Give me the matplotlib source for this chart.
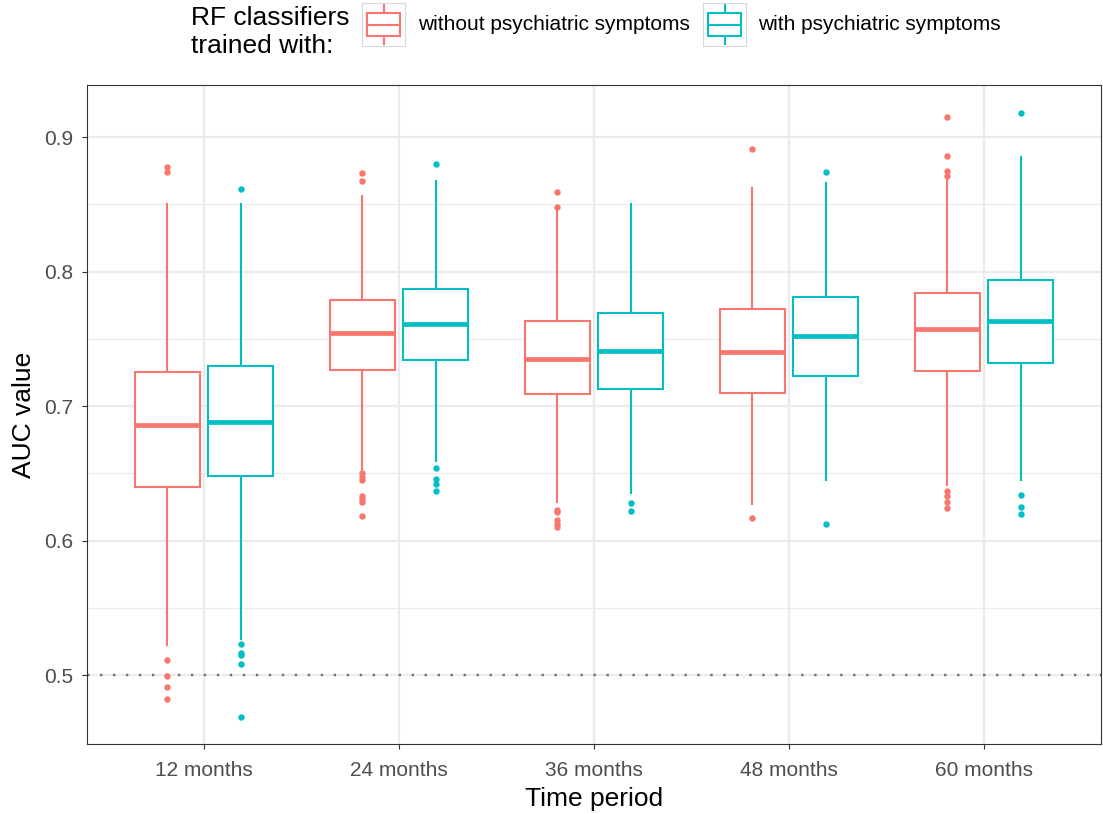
import matplotlib
matplotlib.use("Agg")
import matplotlib.pyplot as plt
from matplotlib.patches import Rectangle

plt.rcParams['font.family'] = ['Liberation Sans', 'DejaVu Sans']

periods = ["12 months", "24 months", "36 months", "48 months", "60 months"]
groups = ["without psychiatric symptoms", "with psychiatric symptoms"]
colors = ["#F8766D", "#00BFC4"]

# box statistics
without_q1 = [0.640, 0.727, 0.709, 0.710, 0.726]
without_med = [0.686, 0.754, 0.735, 0.740, 0.757]
without_q3 = [0.725, 0.779, 0.763, 0.772, 0.784]
without_lo = [0.522, 0.652, 0.629, 0.627, 0.641]
without_hi = [0.850, 0.856, 0.845, 0.862, 0.870]
without_fliers = [
    [0.878, 0.874, 0.511, 0.499, 0.491, 0.482],
    [0.873, 0.867, 0.650, 0.647, 0.645, 0.633, 0.631, 0.629, 0.618],
    [0.859, 0.848, 0.623, 0.621, 0.615, 0.612, 0.610],
    [0.891, 0.617],
    [0.915, 0.886, 0.875, 0.871, 0.637, 0.633, 0.629, 0.624],
]

with_q1 = [0.648, 0.734, 0.713, 0.722, 0.732]
with_med = [0.688, 0.761, 0.741, 0.752, 0.763]
with_q3 = [0.730, 0.787, 0.769, 0.781, 0.794]
with_lo = [0.527, 0.659, 0.635, 0.645, 0.645]
with_hi = [0.850, 0.867, 0.850, 0.866, 0.885]
with_fliers = [
    [0.861, 0.523, 0.516, 0.515, 0.508, 0.469],
    [0.880, 0.654, 0.646, 0.642, 0.637],
    [0.628, 0.622],
    [0.874, 0.612],
    [0.918, 0.634, 0.625, 0.620],
]

stats_by_group = [
    (without_lo, without_q1, without_med, without_q3, without_hi, without_fliers),
    (with_lo, with_q1, with_med, with_q3, with_hi, with_fliers),
]

fig = plt.figure(figsize=(11.03, 8.14), dpi=100)
ax = fig.add_axes([87 / 1103, 70 / 814, 1014 / 1103, 659 / 814])

offsets = [-0.1875, 0.1875]
box_w = 0.3375
for g, (lo, q1, med, q3, hi, fl) in enumerate(stats_by_group):
    stats = []
    for i in range(len(periods)):
        stats.append(dict(whislo=lo[i], q1=q1[i], med=med[i], q3=q3[i],
                          whishi=hi[i], fliers=fl[i]))
    pos = [i + 1 + offsets[g] for i in range(len(periods))]
    c = colors[g]
    ax.bxp(stats, positions=pos, widths=box_w, showcaps=False, patch_artist=True,
           boxprops=dict(facecolor="white", edgecolor=c, linewidth=1.5),
           medianprops=dict(color=c, linewidth=3.4, solid_capstyle="butt"),
           whiskerprops=dict(color=c, linewidth=1.5),
           flierprops=dict(marker="o", markerfacecolor=c, markeredgecolor=c,
                           markersize=3.6, linestyle="none"),
           zorder=3)

ax.axhline(0.5, color="#6e6e6e", linestyle=(0, (1, 4.5)), linewidth=1.7, zorder=2)

ax.set_xlim(0.4, 5.6)
ax.set_ylim(0.4487, 0.9387)
ax.set_xticks(range(1, len(periods) + 1))
ax.set_xticklabels(periods)
ax.set_yticks([0.5, 0.6, 0.7, 0.8, 0.9])
ax.set_yticks([0.55, 0.65, 0.75, 0.85], minor=True)
ax.set_yticklabels(["0.5", "0.6", "0.7", "0.8", "0.9"])
ax.grid(True, which="major", color="#EBEBEB", linewidth=1.6, zorder=0)
ax.grid(True, which="minor", axis="y", color="#EBEBEB", linewidth=0.8, zorder=0)
ax.set_axisbelow(True)
ax.tick_params(axis="both", which="major", length=3.6, width=0.8, color="#333333",
               labelsize=15, labelcolor="#4D4D4D")
ax.tick_params(axis="x", which="major", pad=8.5)
ax.tick_params(axis="y", which="major", pad=6)
ax.tick_params(axis="y", which="minor", length=0)
for s in ax.spines.values():
    s.set_color("#333333")
    s.set_linewidth(0.8)
ax.set_xlabel("Time period", fontsize=19, labelpad=5)
ax.set_ylabel("AUC value", fontsize=19, labelpad=6)

# legend above the panel
fig.text(191 / 1103, 1 - 32 / 814, "RF classifiers\ntrained with:", fontsize=19,
         ha="left", va="center", linespacing=1.25)
key_x = [362, 703]
text_x = [418, 758]
for g in range(2):
    kax = fig.add_axes([key_x[g] / 1103, 1 - 46 / 814, 43 / 1103, 43 / 814])
    kax.set_xlim(0, 1)
    kax.set_ylim(0, 1)
    kax.set_xticks([])
    kax.set_yticks([])
    for s in kax.spines.values():
        s.set_color("#D9D9D9")
        s.set_linewidth(0.8)
    c = colors[g]
    kax.plot([0.5, 0.5], [0.05, 0.23], color=c, lw=1.5)
    kax.plot([0.5, 0.5], [0.77, 0.95], color=c, lw=1.5)
    kax.add_patch(Rectangle((0.12, 0.23), 0.76, 0.54, facecolor="white", edgecolor=c, lw=1.5))
    kax.plot([0.12, 0.88], [0.5, 0.5], color=c, lw=1.5)
    fig.text(text_x[g] / 1103, 1 - 25 / 814, groups[g], fontsize=15, ha="left", va="center")

fig.savefig("out.png", dpi=100)
